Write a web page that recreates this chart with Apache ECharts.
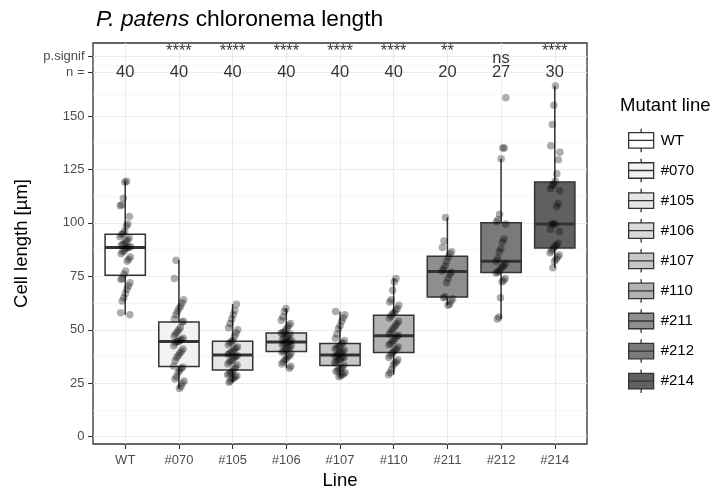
<!DOCTYPE html>
<html><head><meta charset="utf-8">
<script src="https://cdn.jsdelivr.net/npm/echarts@6/dist/echarts.min.js"></script>
<style>html,body{margin:0;padding:0;background:#fff}#c{width:718px;height:492px}</style>
</head><body><div id="c"></div>
<script>
// ---------- data ----------
const categories = ['WT', '#070', '#105', '#106', '#107', '#110', '#211', '#212', '#214'];
const fillColors = ['#FFFFFF', '#F2F2F2', '#E6E6E6', '#DADADA', '#C6C6C6', '#B2B2B2', '#8E8E8E', '#7A7A7A', '#606060'];
const nCounts = [40, 40, 40, 40, 40, 40, 20, 27, 30];
const pSignif = ['', '****', '****', '****', '****', '****', '**', 'ns', '****'];
const yTickValues = [0, 25, 50, 75, 100, 125, 150];
const yMinorValues = [12.5, 37.5, 62.5, 87.5, 112.5, 137.5, 160, 173.9];
const nRowY = 170.3;
const sigRowY = 177.8;

const valsWT  = [119.5, 119, 111.5, 108.5, 108, 103, 99.5, 98.5, 96, 95, 94.5, 93.5, 93, 92, 91.5, 90.5, 90, 89.5, 89, 88.5, 88.5, 88, 87, 86.5, 85.5, 84, 83, 82, 77.5, 76, 74, 73.5, 72, 70.5, 69, 67, 65, 63.5, 58, 57];
const vals070 = [82.5, 74, 64, 62.5, 61, 60, 58.5, 57, 55, 54, 53.5, 51, 50, 49, 48, 47, 46, 45.5, 45, 44.5, 44.5, 44, 42.5, 41, 40, 39, 38, 37, 35.5, 33, 32.5, 32, 31, 30, 28, 27, 26, 25, 23.5, 22.5];
const vals105 = [62, 59, 57, 55, 53, 51, 50, 48.5, 47, 45, 44.5, 44, 43, 42, 41.5, 41, 40, 39.5, 39, 38.5, 38, 37.5, 37, 36, 35.5, 35, 34, 33.5, 32.5, 31.5, 30.5, 30, 29.5, 29, 28.5, 28, 27.5, 27, 26, 25.5];
const vals106 = [60, 58.5, 56, 54.5, 53, 52, 51, 50, 49, 48.5, 48.5, 48, 47.5, 47, 46.5, 46, 45.5, 45, 44.5, 44.5, 44, 44, 43.5, 43, 42.5, 42, 41.5, 41, 40.5, 40, 39.5, 39, 38, 37.5, 36.5, 36, 35, 34, 33, 32];
const vals107 = [58.5, 57, 55.5, 54, 52, 50.5, 48, 46, 45, 44, 43.5, 42.5, 42, 41.5, 41, 40.5, 40, 39.5, 39, 38.5, 38, 37.5, 37, 37, 36.5, 36, 35.5, 35, 34.5, 33.5, 32.5, 32, 31.5, 31, 30.5, 30, 29.5, 29, 28.5, 28];
const vals110 = [74, 72.5, 68.5, 64, 63, 61.5, 60, 59, 58, 57.5, 56.5, 55.5, 54, 53, 52, 51, 50, 49, 48, 47.5, 47, 46, 45, 44.5, 43.5, 43, 42, 41, 40.5, 39.5, 39, 38, 37, 36, 35, 34.5, 33.5, 31.5, 30, 29];
const vals211 = [102.5, 91.5, 88.5, 86.5, 85.5, 84, 82, 80, 78.5, 77.5, 77, 76, 74, 72, 65.5, 65, 64.5, 63.5, 62, 61.5];
const vals212 = [158.5, 135, 135, 130, 104, 101.5, 100.5, 99.5, 92.5, 91, 88, 86.5, 83.5, 82, 81, 80, 79.5, 78.5, 77.5, 77, 76.5, 74, 73, 72.5, 65, 56, 55];
const vals214 = [164, 155, 146, 136, 133, 129.5, 123, 119.5, 118, 117.5, 116, 115, 109, 107.5, 99.5, 99.5, 99.5, 97, 96, 90.5, 89.5, 89, 88, 87, 86, 85, 84, 83, 82, 79];

const groups = [valsWT, vals070, vals105, vals106, vals107, vals110, vals211, vals212, vals214];

// ---------- stats (ggplot-style, type 7 quantiles, 1.5 IQR whiskers) ----------
function quant(s, p) {
  const h = (s.length - 1) * p, lo = Math.floor(h);
  const hi = Math.min(lo + 1, s.length - 1);
  return s[lo] + (h - lo) * (s[hi] - s[lo]);
}
function boxStats(vals) {
  const s = vals.slice().sort((a, b) => a - b);
  const q1 = quant(s, 0.25), med = quant(s, 0.5), q3 = quant(s, 0.75);
  const iqr = q3 - q1;
  const lo = Math.min(...s.filter(v => v >= q1 - 1.5 * iqr));
  const hi = Math.max(...s.filter(v => v <= q3 + 1.5 * iqr));
  return [lo, q1, med, q3, hi];
}

const STROKE = '#333333';
function makeRender(color) {
  return function (params, api) {
    const x = api.value(0);
    const pLo = api.coord([x, api.value(1)]);
    const pQ1 = api.coord([x, api.value(2)]);
    const pMed = api.coord([x, api.value(3)]);
    const pQ3 = api.coord([x, api.value(4)]);
    const pHi = api.coord([x, api.value(5)]);
    const w = api.size([0.75, 0])[0];
    const cx = pMed[0];
    return {
      type: 'group',
      children: [
        { type: 'line', shape: { x1: cx, y1: pQ3[1], x2: cx, y2: pHi[1] }, style: { stroke: STROKE, lineWidth: 1.5 } },
        { type: 'line', shape: { x1: cx, y1: pQ1[1], x2: cx, y2: pLo[1] }, style: { stroke: STROKE, lineWidth: 1.5 } },
        { type: 'rect', shape: { x: cx - w / 2, y: pQ3[1], width: w, height: pQ1[1] - pQ3[1] }, style: { fill: color, stroke: STROKE, lineWidth: 1.5 } },
        { type: 'line', shape: { x1: cx - w / 2, y1: pMed[1], x2: cx + w / 2, y2: pMed[1] }, style: { stroke: STROKE, lineWidth: 3 } }
      ]
    };
  };
}

const boxSeries = categories.map((name, i) => ({
  name: name,
  type: 'custom',
  renderItem: makeRender(fillColors[i]),
  itemStyle: { color: fillColors[i], borderColor: STROKE, borderWidth: 1.3 },
  encode: { x: 0, y: [1, 2, 3, 4, 5] },
  data: [[i].concat(boxStats(groups[i]))],
  z: 2,
  silent: true
}));

// deterministic horizontal jitter (display only)
function jitter(k) { return ((((k + 1) * 0.6180339887) % 1) - 0.5) * 0.2; }
const pointData = [];
groups.forEach((vals, i) => vals.forEach((v, k) => pointData.push([i + jitter(k * 3 + i), v])));

const FONT = 'Liberation Sans, Arial, sans-serif';
const boxIcon = 'path://M12.5 0 L12.5 4 M0 4 L25 4 L25 11.75 L0 11.75 Z M0 11.75 L25 11.75 L25 19.5 L0 19.5 Z M12.5 19.5 L12.5 23.5';

const sigData = [];
pSignif.forEach((s, i) => { if (s) sigData.push([i, sigRowY, s]); });

const option = {
  animation: false,
  backgroundColor: '#ffffff',
  textStyle: { fontFamily: FONT },
  title: [
    {
      text: '{i|P. patens} chloronema length',
      left: 91, top: 3,
      textStyle: { fontSize: 22.8, fontWeight: 'normal', color: '#000', fontFamily: FONT,
        rich: { i: { fontStyle: 'italic', fontSize: 22.8, color: '#000', fontFamily: FONT } } }
    },
    {
      text: 'Mutant line', left: 615, top: 91,
      textStyle: { fontSize: 18.5, fontWeight: 'normal', color: '#000', fontFamily: FONT }
    }
  ],
  legend: {
    data: categories,
    orient: 'vertical',
    left: 623, top: 123,
    itemWidth: 25, itemHeight: 23.5, itemGap: 5.3,
    icon: boxIcon,
    itemStyle: { borderColor: STROKE, borderWidth: 1.3 },
    selectedMode: false,
    textStyle: { fontSize: 15, color: '#000', fontFamily: FONT, padding: [0, 0, 0, 2] }
  },
  grid: { left: 93, right: 131, top: 43, bottom: 48, outerBoundsMode: 'none', containLabel: false, show: true, borderColor: STROKE, borderWidth: 1.3, backgroundColor: '#fff' },
  xAxis: {
    type: 'value', min: -0.6, max: 8.6,
    name: 'Line', nameLocation: 'middle', nameGap: 27,
    nameTextStyle: { fontSize: 18.5, color: '#000', fontFamily: FONT },
    axisLine: { show: false, onZero: false },
    axisTick: { show: true, length: 5, lineStyle: { color: STROKE, width: 1.1 }, customValues: categories.map((c, i) => i) },
    axisLabel: { customValues: categories.map((c, i) => i), formatter: v => categories[Math.round(v)], fontSize: 13, color: '#4D4D4D', margin: 10, fontFamily: FONT },
    splitLine: { show: true, lineStyle: { color: '#EBEBEB', width: 1.1 } }
  },
  yAxis: [
    {
      type: 'value', min: -3.4, max: 184.1,
      name: 'Cell length [µm]', nameLocation: 'middle', nameGap: 62,
      nameTextStyle: { fontSize: 18.5, color: '#000', fontFamily: FONT },
      axisLine: { show: false, onZero: false },
      axisTick: { show: true, length: 5, lineStyle: { color: STROKE, width: 1.1 }, customValues: yTickValues.concat([nRowY, sigRowY]) },
      axisLabel: {
        customValues: yTickValues.concat([nRowY, sigRowY]),
        formatter: v => (v === nRowY ? 'n =' : (v === sigRowY ? 'p.signif' : String(v))),
        fontSize: 13, color: '#4D4D4D', margin: 8.5, fontFamily: FONT
      },
      splitLine: { show: true, lineStyle: { color: '#EBEBEB', width: 1.1 } }
    },
    {
      type: 'value', min: -3.4, max: 184.1,
      axisLine: { show: false, onZero: false },
      axisTick: { show: false, customValues: yMinorValues },
      axisLabel: { show: false, customValues: yMinorValues },
      splitLine: { show: true, lineStyle: { color: '#F0F0F0', width: 0.6 } }
    }
  ],
  series: boxSeries.concat([
    {
      name: 'points', type: 'scatter', data: pointData, symbolSize: 7.5,
      itemStyle: { color: 'rgba(0,0,0,0.4)' }, z: 3, silent: true
    },
    {
      name: 'n', type: 'scatter', symbolSize: 0, itemStyle: { color: 'rgba(0,0,0,0)' }, z: 4, silent: true,
      data: nCounts.map((n, i) => [i, nRowY, n]),
      label: { show: true, position: 'inside', formatter: p => String(p.value[2]), fontSize: 16.5, color: '#000', fontFamily: FONT }
    },
    {
      name: 'sig', type: 'scatter', symbolSize: 0, itemStyle: { color: 'rgba(0,0,0,0)' }, z: 4, silent: true,
      data: sigData,
      label: {
        show: true, position: 'inside',
        formatter: p => (p.value[2].indexOf('*') >= 0 ? '{st|' + p.value[2] + '}' : '{ns|' + p.value[2] + '}'),
        fontSize: 16.5, color: '#000', fontFamily: FONT,
        rich: {
          st: { fontSize: 16.5, color: '#000', fontFamily: FONT, padding: [0, 0, 10, 0] },
          ns: { fontSize: 16.5, color: '#000', fontFamily: FONT, padding: [3, 0, 0, 0] }
        }
      }
    }
  ])
};

const chart = echarts.init(document.getElementById('c'), null, { renderer: 'canvas' });
chart.setOption(option);
</script>
</body></html>
